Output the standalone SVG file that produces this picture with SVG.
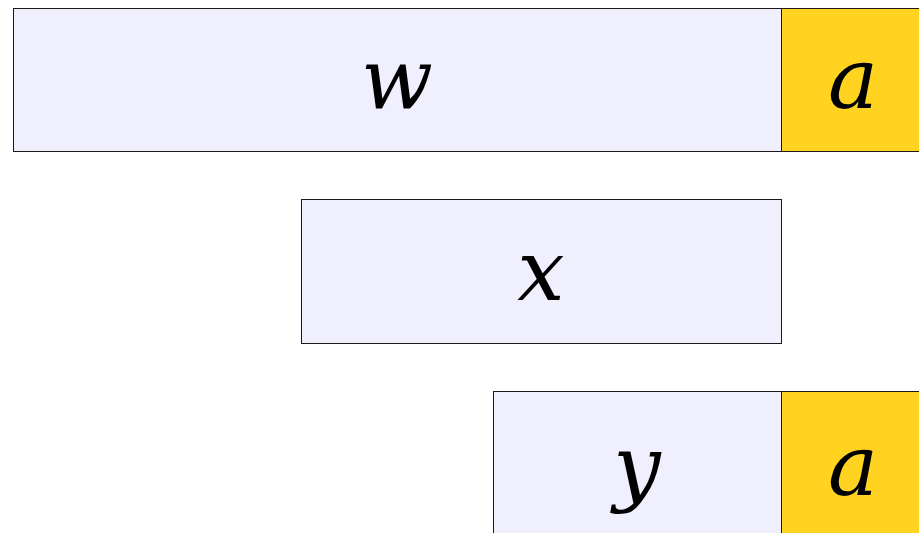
<svg xmlns="http://www.w3.org/2000/svg" width="919" height="533" viewBox="0 0 919 533">
<style>
.b{fill:#EFEFFD;stroke:#1a1a1a;stroke-width:1}
.y{fill:#FFD320;stroke:#1a1a1a;stroke-width:1}
text{font-family:"DejaVu Serif",serif;font-style:italic;font-size:84px;text-anchor:middle;fill:#000}
</style>
<rect width="919" height="533" fill="#fff"/>
<g id="w"><rect class="b" x="13.5" y="8.5" width="768" height="143"/><text x="397" y="108">w</text></g>
<g id="a1"><rect class="y" x="781.5" y="8.5" width="150" height="143"/><text x="853" y="108">a</text></g>
<g id="x"><rect class="b" x="301.5" y="199.5" width="480" height="144"/><text x="541" y="300">x</text></g>
<g id="y"><rect class="b" x="493.5" y="391.5" width="288" height="160"/><text x="637" y="495">y</text></g>
<g id="a2"><rect class="y" x="781.5" y="391.5" width="150" height="160"/><text x="853" y="495">a</text></g>
<g id="connectors"></g>
</svg>
